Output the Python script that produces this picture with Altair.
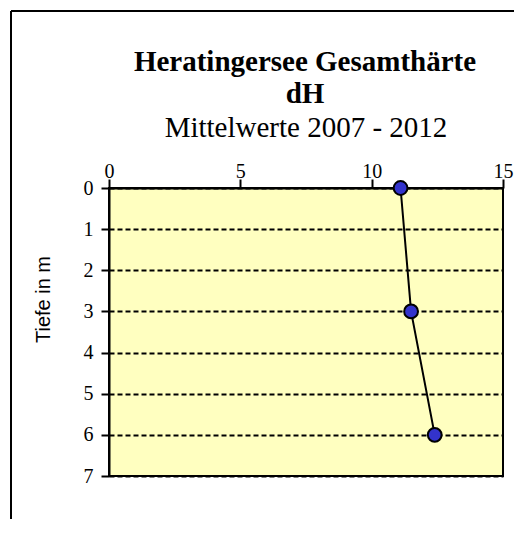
import altair as alt
import pandas as pd

# data
depth_m = [0, 3, 6]
hardness_dh = [11.1, 11.5, 12.4]
x_ticks = [0, 5, 10, 15]
y_ticks = [0, 1, 2, 3, 4, 5, 6, 7]
title_lines = ["Heratingersee Gesamthärte", "dH"]
subtitle_text = "Mittelwerte 2007 - 2012"

df = pd.DataFrame({"tiefe": depth_m, "dh": hardness_dh})

SERIF = "Liberation Serif"

x_enc = alt.X(
    "dh:Q",
    scale=alt.Scale(domain=[0, 15], nice=False, zero=False),
    axis=alt.Axis(
        orient="top", values=x_ticks, title=None, grid=False,
        labelFont=SERIF, labelFontSize=20, labelColor="black",
        labelBaseline="alphabetic", labelPadding=2, labelFlush=False,
        tickSize=9, tickColor="black", tickWidth=2,
        domainColor="black", domainWidth=2,
    ),
)
y_enc = alt.Y(
    "tiefe:Q",
    scale=alt.Scale(domain=[0, 7], reverse=True, nice=False, zero=False),
    axis=alt.Axis(
        values=y_ticks, title="Tiefe in m",
        titleFont="Liberation Sans", titleFontSize=20, titleFontWeight="normal",
        titleColor="black", titleAngle=270, titleAlign="center",
        titleBaseline="middle", titleX=-66, titleY=111,
        labelFont=SERIF, labelFontSize=20, labelColor="black",
        labelPadding=8, labelFlush=False, labelBaseline="middle",
        tickSize=8, tickColor="black", tickWidth=2,
        domainColor="black", domainWidth=2,
        grid=True, gridColor="black", gridDash=[5, 3], gridWidth=2,
    ),
)

line = alt.Chart(df).mark_line(color="black", strokeWidth=2).encode(x=x_enc, y=y_enc)
points = alt.Chart(df).mark_point(
    filled=True, fill="#3333CC", stroke="black", strokeWidth=2, size=190, opacity=1
).encode(x="dh:Q", y="tiefe:Q")

title1 = alt.Chart(alt.Data(values=[{"t": title_lines[0]}])).mark_text(
    font=SERIF, fontSize=29, fontWeight="bold", color="black",
    align="center", baseline="alphabetic",
).encode(text="t:N", x=alt.value(196), y=alt.value(-117))
title2 = alt.Chart(alt.Data(values=[{"t": title_lines[1]}])).mark_text(
    font=SERIF, fontSize=29, fontWeight="bold", color="black",
    align="center", baseline="alphabetic",
).encode(text="t:N", x=alt.value(196), y=alt.value(-85))
subtitle = alt.Chart(alt.Data(values=[{"t": subtitle_text}])).mark_text(
    font=SERIF, fontSize=29, fontWeight="normal", color="black",
    align="center", baseline="alphabetic",
).encode(text="t:N", x=alt.value(197), y=alt.value(-51))

frame_top = alt.Chart(alt.Data(values=[{}])).mark_rule(color="black", strokeWidth=2).encode(
    x=alt.value(-98), x2=alt.value(420), y=alt.value(-177)
)
frame_left = alt.Chart(alt.Data(values=[{}])).mark_rule(color="black", strokeWidth=2).encode(
    x=alt.value(-98), y=alt.value(-177), y2=alt.value(360)
)

chart = alt.layer(line, points, title1, title2, subtitle, frame_top, frame_left).properties(
    width=394,
    height=288,
    padding={"left": 101, "top": 180, "right": 11, "bottom": 43},
    autosize=alt.AutoSizeParams(type="none"),
    background="white",
).configure_view(
    fill="#FFFFC0", stroke="black", strokeWidth=2
)

chart.save("out.html", embed_options={"renderer": "svg", "actions": False})
